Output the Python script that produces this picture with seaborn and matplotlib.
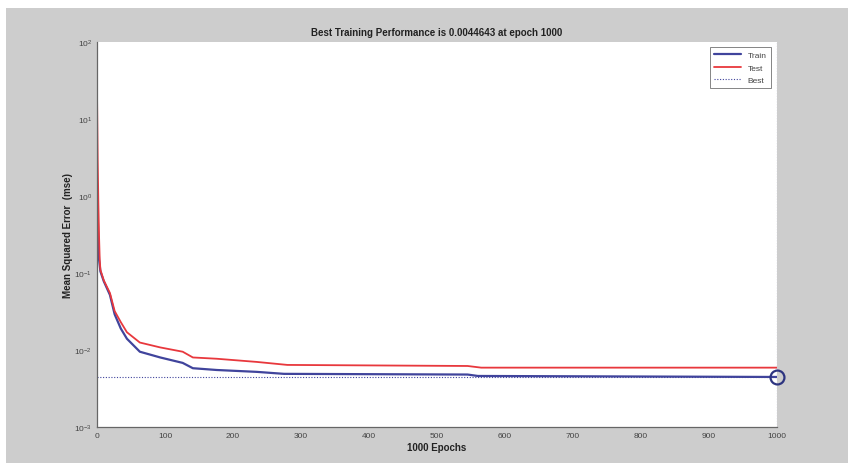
import numpy as np
import pandas as pd
import matplotlib
matplotlib.use("Agg")
import matplotlib.pyplot as plt
from matplotlib.patches import Rectangle
from matplotlib.ticker import LogLocator, NullFormatter, MultipleLocator
import seaborn as sns

# values (key epochs only)
train_epochs = [0, 1, 2, 3, 5, 10, 19, 26, 35, 44, 63, 93, 126, 141, 176, 235, 275, 545, 560, 1000]
train_mse = [1.5, 0.6, 0.25, 0.15, 0.105, 0.078, 0.052, 0.029, 0.019, 0.014, 0.0095, 0.0080,
             0.0068, 0.0058, 0.0055, 0.0052, 0.0049, 0.0048, 0.0046, 0.0044643]

test_epochs = [0, 1, 2, 3, 4, 5, 10, 19, 26, 35, 44, 63, 93, 126, 141, 176, 235, 280, 545, 565, 1000]
test_mse = [23.0, 3.0, 0.8, 0.3, 0.15, 0.11, 0.08, 0.055, 0.032, 0.023, 0.017, 0.0125, 0.0108,
            0.0095, 0.0080, 0.0077, 0.0070, 0.0064, 0.0062, 0.0059, 0.0059]

best_epoch = 1000
best_perf = 0.0044643
n_epochs = 1000

train_df = pd.DataFrame({"epoch": train_epochs, "mse": train_mse})
test_df = pd.DataFrame({"epoch": test_epochs, "mse": test_mse})

sns.set_style("white")
plt.rcParams["font.family"] = ["Liberation Sans", "DejaVu Sans"]

fig = plt.figure(figsize=(8.48, 4.64), dpi=100)
fig.patch.set_facecolor("white")
# grey MATLAB figure window
fig.patches.append(Rectangle((6 / 848, -0.05), 1.1, 1.05 - 9 / 464, transform=fig.transFigure,
                             facecolor="#cdcdcd", edgecolor="none", zorder=-10))

ax = fig.add_axes([97 / 848, 1 - 428 / 464, 680 / 848, 385 / 464])
ax.set_facecolor("white")

blue = "#40449c"
red = "#e8383d"

sns.lineplot(data=train_df, x="epoch", y="mse", ax=ax, color=blue, lw=1.6, label="Train")
sns.lineplot(data=test_df, x="epoch", y="mse", ax=ax, color=red, lw=1.3, label="Test")
ax.axhline(best_perf, color=blue, lw=0.8, ls=(0, (1, 1.5)), label="Best")
ax.axvline(best_epoch, color=blue, lw=0.8, ls=(0, (1, 1.5)))
ax.plot([best_epoch], [best_perf], marker="o", ms=10, mfc="none", mec="#2d3480", mew=1.6,
        clip_on=False, zorder=5)

ax.set_yscale("log")
ax.set_ylim(1e-3, 1e2)
ax.set_xlim(0, n_epochs)
ax.xaxis.set_major_locator(MultipleLocator(100))
ax.yaxis.set_major_locator(LogLocator(base=10, numticks=10))
ax.yaxis.set_minor_locator(LogLocator(base=10, subs=np.arange(2, 10), numticks=10))
ax.yaxis.set_minor_formatter(NullFormatter())

ax.tick_params(axis="both", which="both", direction="in", colors="#555555",
               labelcolor="#444444", labelsize=6)
ax.tick_params(axis="both", which="major", length=5, width=0.7)
ax.tick_params(axis="y", which="minor", length=3, width=0.5)

for side in ["top", "right"]:
    ax.spines[side].set_visible(False)
for side in ["left", "bottom"]:
    ax.spines[side].set_color("#666666")
    ax.spines[side].set_linewidth(0.9)

ax.set_title("Best Training Performance is 0.0044643 at epoch 1000", fontsize=7,
             fontweight="bold", color="#222222", pad=5)
ax.set_xlabel("1000 Epochs", fontsize=7, fontweight="bold", color="#222222", labelpad=2)
ax.set_ylabel("Mean Squared Error  (mse)", fontsize=7, fontweight="bold", color="#222222",
              labelpad=1)

leg = ax.legend(loc="upper right", fontsize=6, frameon=True, fancybox=False,
                handlelength=3.2, borderpad=0.5, labelspacing=0.55,
                bbox_to_anchor=(0.997, 0.997), labelcolor="#444444")
leg.get_frame().set_edgecolor("#666666")
leg.get_frame().set_linewidth(0.7)

fig.savefig("out.png", dpi=100, facecolor=fig.get_facecolor())
